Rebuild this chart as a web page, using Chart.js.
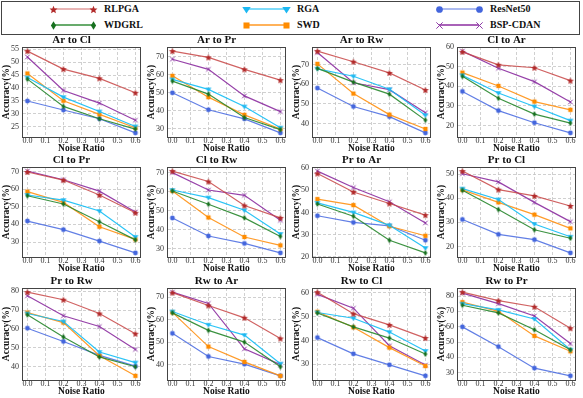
<!DOCTYPE html>
<html><head><meta charset="utf-8">
<script src="https://cdn.jsdelivr.net/npm/chart.js@4"></script>
<style>
html,body{margin:0;padding:0;background:#fff;width:583px;height:398px;overflow:hidden;position:relative;}
#legend{position:absolute;left:1px;top:1px;width:579px;height:34px;border:1px solid #444;box-sizing:border-box;font:bold 10px "Liberation Serif","DejaVu Serif",serif;color:#111;}
.lg-line{position:absolute;height:1.2px;}
.lg-mk{position:absolute;}
.lg-txt{position:absolute;line-height:10px;white-space:nowrap;}
canvas.panel{position:absolute;}
</style></head>
<body>
<div id="legend"></div>
<script>
// ---- data ----
const tasks = ['Ar to Cl','Ar to Pr','Ar to Rw','Cl to Ar','Cl to Pr','Cl to Rw','Pr to Ar','Pr to Cl','Pr to Rw','Rw to Ar','Rw to Cl','Rw to Pr'];
const noiseRatios = [0.0, 0.2, 0.4, 0.6];
const xTickLabels = [0.0, 0.1, 0.2, 0.3, 0.4, 0.5, 0.6];
const yTickLabels = [
  [25,30,35,40,45,50,55],
  [30,40,50,60,70],
  [40,50,60,70],
  [20,30,40,50,60],
  [30,40,50,60,70],
  [30,40,50,60,70],
  [20,30,40,50,60],
  [20,30,40,50],
  [40,50,60,70,80],
  [40,50,60,70],
  [30,40,50,60],
  [30,40,50,60,70,80]
];
const RLPGA = [
  [54.3,47.3,43.7,38.1],[73.1,69.6,63.0,57.0],[76.8,71.4,65.7,57.0],[57.6,51.0,49.5,42.9],
  [69.8,65.2,56.7,46.6],[71.0,65.5,52.8,46.3],[57.5,49.2,44.0,38.8],[51.3,43.6,41.0,36.8],
  [79.5,75.5,68.2,57.5],[72.0,66.3,60.8,51.6],[60.2,51.2,46.5,41.0],[82.5,77.0,73.0,59.0]
];
const WDGRL = [
  [43.4,32.8,28.0,24.0],[56.5,49.3,36.3,29.6],[68.0,61.0,54.9,41.7],[45.1,33.9,25.8,21.2],
  [56.3,51.6,41.5,31.2],[60.5,53.5,46.3,36.5],[43.8,38.3,27.5,21.8],[43.3,35.3,26.9,23.4],
  [67.5,55.8,45.2,40.0],[63.0,55.2,50.0,39.0],[51.5,45.7,41.0,34.3],[74.0,69.0,58.0,45.0]
];
const RGA = [
  [44.0,36.4,30.8,25.0],[57.4,51.9,42.4,30.7],[67.8,64.0,57.4,44.2],[45.6,36.6,29.7,22.5],
  [56.7,53.8,47.6,32.9],[61.0,57.0,50.3,37.8],[44.3,40.0,34.2,24.0],[44.0,39.5,29.3,24.0],
  [68.2,64.0,47.8,42.2],[63.6,57.7,53.1,40.4],[51.7,49.3,43.5,35.6],[75.0,71.0,65.0,45.0]
];
const SWD = [
  [45.6,35.0,29.7,24.5],[59.4,47.6,37.8,30.0],[70.3,55.2,44.5,37.2],[47.0,40.2,32.2,28.0],
  [58.6,52.5,38.7,31.5],[60.5,46.5,36.2,31.8],[46.0,43.3,33.8,29.5],[43.5,38.3,33.2,27.5],
  [68.7,63.4,45.8,35.2],[63.2,48.0,41.2,35.0],[52.0,45.5,37.0,29.3],[76.0,70.0,54.0,44.0]
];
const ResNet50 = [
  [34.9,31.4,28.0,22.5],[50.0,40.6,35.6,27.8],[58.0,48.6,43.5,35.2],[37.4,27.6,21.4,16.2],
  [41.9,37.0,30.5,23.8],[46.2,36.7,32.8,27.8],[38.5,35.5,34.0,27.5],[31.2,25.0,22.8,17.3],
  [60.4,53.4,46.0,40.3],[53.9,43.6,40.2,35.0],[41.2,34.4,29.8,25.2],[59.9,47.0,33.0,28.0]
];
const BSP_CDAN = [
  [52.0,39.0,34.1,27.4],[68.6,63.0,48.3,39.6],[76.1,60.7,57.2,45.5],[58.0,49.2,42.4,32.0],
  [70.3,65.4,58.9,47.1],[70.2,61.0,58.2,45.0],[58.6,51.2,44.8,35.3],[50.2,46.8,38.3,30.3],
  [77.6,67.0,61.3,49.2],[72.2,67.2,47.0,40.0],[59.3,53.5,37.8,29.7],[81.9,75.0,67.0,49.0]
];
const methodNames = ['RLPGA','WDGRL','RGA','SWD','ResNet50','BSP-CDAN'];
const methodValues = [RLPGA, WDGRL, RGA, SWD, ResNet50, BSP_CDAN];

// ---- styles ----
const SERIF = '"Liberation Serif","DejaVu Serif",serif';
const styles = [
  {shape:'star',    mk:'#b22a2a', line:'rgba(200,70,70,0.85)',  lg:'rgba(200,70,70,0.4)'},
  {shape:'diamond', mk:'#17701f', line:'rgba(40,135,45,0.9)',   lg:'rgba(40,135,45,0.7)'},
  {shape:'tri',     mk:'#1cb8f2', line:'rgba(20,190,245,0.9)',  lg:'rgba(20,190,245,0.55)'},
  {shape:'square',  mk:'#ff8c00', line:'rgba(255,145,20,0.9)',  lg:'rgba(255,145,20,0.7)'},
  {shape:'circle',  mk:'#4466dd', line:'rgba(70,105,225,0.85)', lg:'rgba(70,105,225,0.45)'},
  {shape:'x',       mk:'#8e3aa6', line:'rgba(140,45,160,0.9)',  lg:'rgba(140,45,160,0.75)'}
];

function marker(shape, color, s) {
  const c = document.createElement('canvas');
  const size = Math.ceil(s * 2 + 2);
  c.width = c.height = size;
  const g = c.getContext('2d');
  const m = size / 2;
  g.fillStyle = color; g.strokeStyle = color; g.lineWidth = 1;
  g.beginPath();
  if (shape === 'star') {
    for (let i = 0; i < 10; i++) {
      const r = i % 2 ? s * 0.45 : s;
      const a = -Math.PI / 2 + i * Math.PI / 5;
      g.lineTo(m + r * Math.cos(a), m + r * Math.sin(a) + s * 0.1);
    }
    g.closePath(); g.fill();
  } else if (shape === 'tri') {
    g.moveTo(m - s, m - s * 0.6); g.lineTo(m + s, m - s * 0.6); g.lineTo(m, m + s * 0.95);
    g.closePath(); g.fill();
  } else if (shape === 'circle') {
    g.arc(m, m, s * 0.8, 0, Math.PI * 2); g.fill();
  } else if (shape === 'diamond') {
    g.moveTo(m, m - s); g.lineTo(m + s * 0.62, m); g.lineTo(m, m + s); g.lineTo(m - s * 0.62, m);
    g.closePath(); g.fill();
  } else if (shape === 'square') {
    g.rect(m - s * 0.72, m - s * 0.72, s * 1.44, s * 1.44); g.fill();
  } else if (shape === 'x') {
    const k = s * 0.75;
    g.moveTo(m - k, m - k); g.lineTo(m + k, m + k); g.moveTo(m + k, m - k); g.lineTo(m - k, m + k);
    g.stroke();
  }
  return c;
}

// ---- legend ----
const legend = document.getElementById('legend');
const colX = [52, 245, 438];
const rowY = [8, 24];
methodNames.forEach((name, i) => {
  const col = Math.floor(i / 2), row = i % 2;
  const st = styles[i];
  const x1 = colX[col] - 1, x2 = x1 + 40, y = rowY[row] - 1;
  const ln = document.createElement('div');
  ln.className = 'lg-line';
  ln.style.left = x1 + 'px'; ln.style.width = (x2 - x1) + 'px'; ln.style.top = (y - 0.6) + 'px';
  ln.style.background = st.lg;
  legend.appendChild(ln);
  [x1, x2].forEach(x => {
    const c = marker(st.shape, st.mk, 4.2);
    c.className = 'lg-mk';
    c.style.left = (x - c.width / 2) + 'px';
    c.style.top = (y - c.height / 2) + 'px';
    legend.appendChild(c);
  });
  const t = document.createElement('div');
  t.className = 'lg-txt';
  t.textContent = name;
  t.style.left = (x2 + 11) + 'px';
  t.style.top = (y - 5) + 'px';
  legend.appendChild(t);
});

// ---- panels ----
const pointImgs = styles.map(st => marker(st.shape, st.mk, st.shape === 'star' ? 3.6 : 3));
const framePlugin = {
  id: 'frame',
  afterDatasetsDraw(chart) {
    const a = chart.chartArea, g = chart.ctx;
    g.save(); g.strokeStyle = '#444'; g.lineWidth = 1;
    g.strokeRect(Math.round(a.left) + 0.5, Math.round(a.top) + 0.5, Math.round(a.right - a.left) - 1, Math.round(a.bottom - a.top));
    g.restore();
  }
};
const rowTop = [34, 154, 275];
const rowH = [120, 120, 122];

tasks.forEach((task, t) => {
  const col = t % 4, row = Math.floor(t / 4);
  const cv = document.createElement('canvas');
  cv.className = 'panel';
  cv.width = 145; cv.height = rowH[row];
  cv.style.left = (145 * col) + 'px';
  cv.style.top = rowTop[row] + 'px';
  cv.style.width = '145px'; cv.style.height = rowH[row] + 'px';
  document.body.appendChild(cv);

  let lo = Infinity, hi = -Infinity;
  methodValues.forEach(v => v[t].forEach(y => { lo = Math.min(lo, y); hi = Math.max(hi, y); }));
  const pad = (hi - lo) * 0.05;

  new Chart(cv, {
    type: 'line',
    data: {
      datasets: methodNames.map((name, i) => ({
        label: name,
        data: noiseRatios.map((x, j) => ({x: x, y: methodValues[i][t][j]})),
        borderColor: styles[i].line,
        backgroundColor: styles[i].mk,
        borderWidth: 1.2,
        pointStyle: pointImgs[i],
        pointRadius: 3,
        pointHoverRadius: 3,
        tension: 0,
        fill: false
      }))
    },
    options: {
      animation: false, responsive: false, devicePixelRatio: 1,
      events: [],
      layout: {padding: {left: 0, right: 2, top: 0, bottom: 0}},
      plugins: {
        legend: {display: false},
        tooltip: {enabled: false},
        title: {display: true, text: task, color: '#111',
          font: {family: SERIF, size: 11, weight: 'bold', lineHeight: 1},
          padding: {top: 1, bottom: 1}}
      },
      scales: {
        x: {
          type: 'linear', min: -0.03, max: 0.63,
          afterBuildTicks: s => { s.ticks = xTickLabels.map(v => ({value: v})); },
          afterFit: s => { s.height = 17; },
          ticks: {callback: v => Number(v).toFixed(1), autoSkip: false, maxRotation: 0, padding: 0,
            color: '#333', font: {family: SERIF, size: 8, lineHeight: 1}},
          grid: {color: '#c4c4c4', lineWidth: 0.8, drawTicks: false},
          border: {display: true, color: '#444', dash: [3, 2]},
          title: {display: true, text: 'Noise Ratio', color: '#111',
            font: {family: SERIF, size: 9.5, weight: 'bold', lineHeight: 1}, padding: {top: 0, bottom: 1}}
        },
        y: {
          type: 'linear', min: lo - pad, max: hi + pad,
          afterBuildTicks: s => { s.ticks = yTickLabels[t].map(v => ({value: v})); },
          afterFit: s => { s.width = 22; },
          ticks: {autoSkip: false, padding: 3, color: '#333', font: {family: SERIF, size: 8, lineHeight: 1}},
          grid: {color: '#c4c4c4', lineWidth: 0.8, drawTicks: false},
          border: {display: true, color: '#444', dash: [3, 2]},
          title: {display: true, text: 'Accuracy(%)', color: '#111',
            font: {family: SERIF, size: 9.5, weight: 'bold', lineHeight: 1}, padding: {top: 2, bottom: 0}}
        }
      }
    },
    plugins: [framePlugin]
  });
});
</script>
</body></html>
